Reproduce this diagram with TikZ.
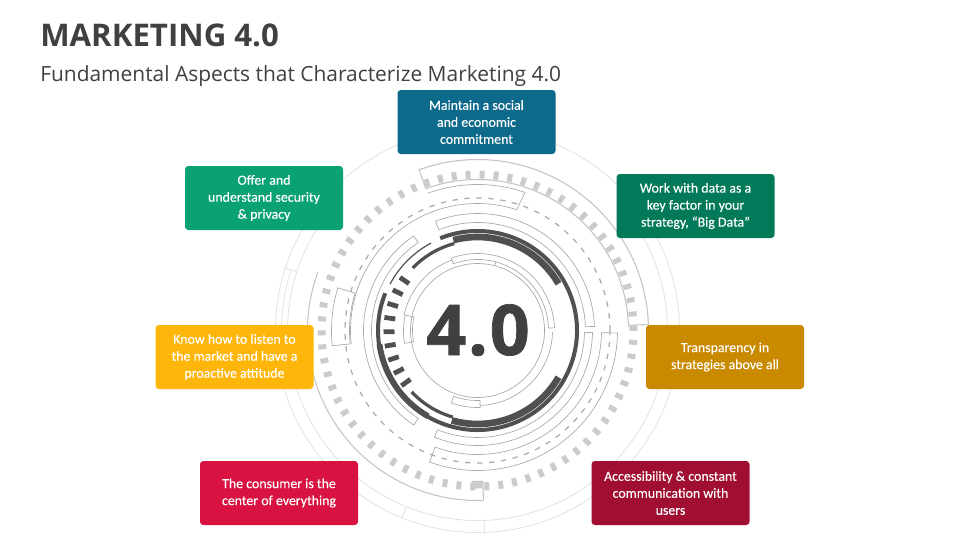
\documentclass[tikz,border=0pt]{standalone}
\usepackage{fontspec}
\setmainfont{Carlito}[FakeBold=0.25]
\newfontfamily\titlefont{Open Sans}
\newfontfamily\bignum{Open Sans}[LetterSpace=2.5,FakeBold=1]
\definecolor{ink}{HTML}{404040}
\definecolor{darkring}{HTML}{505050}
\definecolor{midline}{HTML}{A8A8A8}
\definecolor{greyline}{HTML}{C4C4C4}
\definecolor{faint}{HTML}{E2E2E2}
\definecolor{square}{HTML}{CBCBCB}
\definecolor{cteal}{HTML}{0E6A8A}
\definecolor{cgreen}{HTML}{0AA175}
\definecolor{cdgreen}{HTML}{027A5A}
\definecolor{corange}{HTML}{C98A00}
\definecolor{cyellow}{HTML}{FFB60B}
\definecolor{cred}{HTML}{D81342}
\definecolor{cmaroon}{HTML}{A00E32}
\tikzset{
  x=0.75pt,y=0.75pt,
  thinring/.style={draw=midline,line width=0.5pt},
  greyring/.style={draw=greyline,line width=0.8pt},
  faintring/.style={draw=faint,line width=0.6pt},
  darkarc/.style={draw=darkring,line width=#1},
  card/.style={rounded corners=2.5pt,minimum width=118.5pt,minimum height=48pt,inner sep=0pt,
    text=white,align=center,font=\fontsize{10.4}{12.75}\selectfont},
}
% arc around the current origin: style, radius, start, end
\newcommand{\ringarc}[4]{\draw[#1] (#3:#2) arc[start angle=#3,end angle=#4,radius=#2];}
% closed curved box: style, r1, r2, start, end
\newcommand{\ringbox}[5]{\draw[#1] (#4:#2) arc[start angle=#4,end angle=#5,radius=#2] -- (#5:#3) arc[start angle=#5,end angle=#4,radius=#3] -- cycle;}
\begin{document}
\begin{tikzpicture}
\useasboundingbox (0,0) rectangle (960,-540);
\fill[white] (0,0) rectangle (960,-540);
\begin{scope}[shift={(477.5,-330.5)}]
  % faint outer rings
  \draw[faintring] (0,0) circle[radius=202];
  \ringarc{faintring}{190}{145}{390}
  \ringarc{faintring}{196}{162}{195}
  \draw[faintring] (162:190) -- (162:202);
  \draw[faintring] (248:190) -- (248:202);
  \draw[faintring] (272:190) -- (272:202);
  % grey ring and squares
  \draw[square,line width=6pt,dash pattern=on 3.75pt off 6.75pt] (0,0) circle[radius=156];
  \ringarc{greyring}{170}{160}{272}
  \ringbox{greyring}{151}{171}{110}{2}
  \draw[greyring] (272:170) -- (272:151) arc[start angle=272,end angle=268,radius=151];
  \fill[square] (272:151.5) arc[start angle=272,end angle=268.5,radius=151.5] -- (268.5:158) arc[start angle=268.5,end angle=272,radius=158] -- cycle;
  % dashed ring and its neighbours
  \draw[midline,line width=0.9pt,dash pattern=on 4pt off 5pt] (0,0) circle[radius=132.5];
  \ringarc{thinring}{127}{186}{72}
  \ringarc{thinring}{146}{110}{71}
  \draw[thinring] (71:146) -- (72:127);
  \ringbox{thinring}{128}{146}{186}{163}
  \ringbox{thinring}{124}{140}{-1}{-110}
  % middle rings
  \ringbox{thinring}{108}{117}{111}{2}
  \ringbox{thinring}{106}{114}{124}{236}
  \ringbox{thinring}{107}{115}{-1}{-112}
  % inner rings
  \draw[thinring] (0,0) circle[radius=67];
  \ringbox{thinring}{71}{77}{110}{2}
  \draw[thinring] (75:67) -- (75:71);
  \ringbox{thinring}{70}{77}{250}{272}
  \ringarc{thinring}{75}{-1}{-88}
  \ringbox{thinring}{65}{74}{168}{190}
  \ringarc{thinring}{75}{168}{110}
  % dark ring
  \ringarc{darkarc=3pt}{99.5}{112}{-202}
  \ringarc{darkarc=4.4pt}{99}{188}{240}
  \ringarc{darkarc=0.9pt}{99}{118}{152}
  \ringarc{darkarc=5pt}{93.5}{105}{30}
  \ringarc{darkarc=5pt}{93.5}{-30}{-106}
  \ringarc{darkarc=2.4pt}{90}{136}{105}
  \ringarc{darkarc=2.4pt}{90}{223}{254}
  \foreach \a in {145.6,154.4,...,216}
    \draw[darkarc=3.6pt] (\a:83) -- (\a:94);
\end{scope}
\node[anchor=base west,inner sep=0pt,text=ink,font=\titlefont\bfseries\fontsize{23.4}{28}\selectfont] (title) at (40,-46) {MARKETING 4.0};
\node[anchor=base west,inner sep=0pt,text=ink,font=\titlefont\fontsize{15.7}{18}\selectfont] (subtitle) at (40,-81) {Fundamental Aspects that Characterize Marketing 4.0};
\node[anchor=base,text=ink,inner sep=0pt,font=\bignum\bfseries\fontsize{52.5}{60}\selectfont] (center) at (478,-355) {4.0};
\node[card,fill=cteal] (n1) at (476.5,-122) {\raisebox{-0.75pt}{\parbox{118pt}{\centering Maintain a social\\and economic\\commitment}}};
\node[card,fill=cdgreen] (n2) at (695.5,-206) {\raisebox{-0.75pt}{\parbox{118pt}{\centering Work with data as a\\key factor in your\\strategy, “Big Data”}}};
\node[card,fill=corange] (n3) at (725,-357) {\raisebox{-0.75pt}{\parbox{118pt}{\centering Transparency in\\strategies above all}}};
\node[card,fill=cmaroon] (n4) at (670.5,-493) {\raisebox{-0.75pt}{\parbox{118pt}{\centering Accessibility \& constant\\communication with\\users}}};
\node[card,fill=cred] (n5) at (279,-493) {\raisebox{-0.75pt}{\parbox{118pt}{\centering The consumer is the\\center of everything}}};
\node[card,fill=cyellow] (n6) at (234.5,-357) {\raisebox{-0.75pt}{\parbox{118pt}{\centering Know how to listen to\\the market and have a\\proactive attitude}}};
\node[card,fill=cgreen] (n7) at (264,-198) {\raisebox{-0.75pt}{\parbox{118pt}{\centering Offer and\\understand security\\\& privacy}}};
\end{tikzpicture}
\end{document}
